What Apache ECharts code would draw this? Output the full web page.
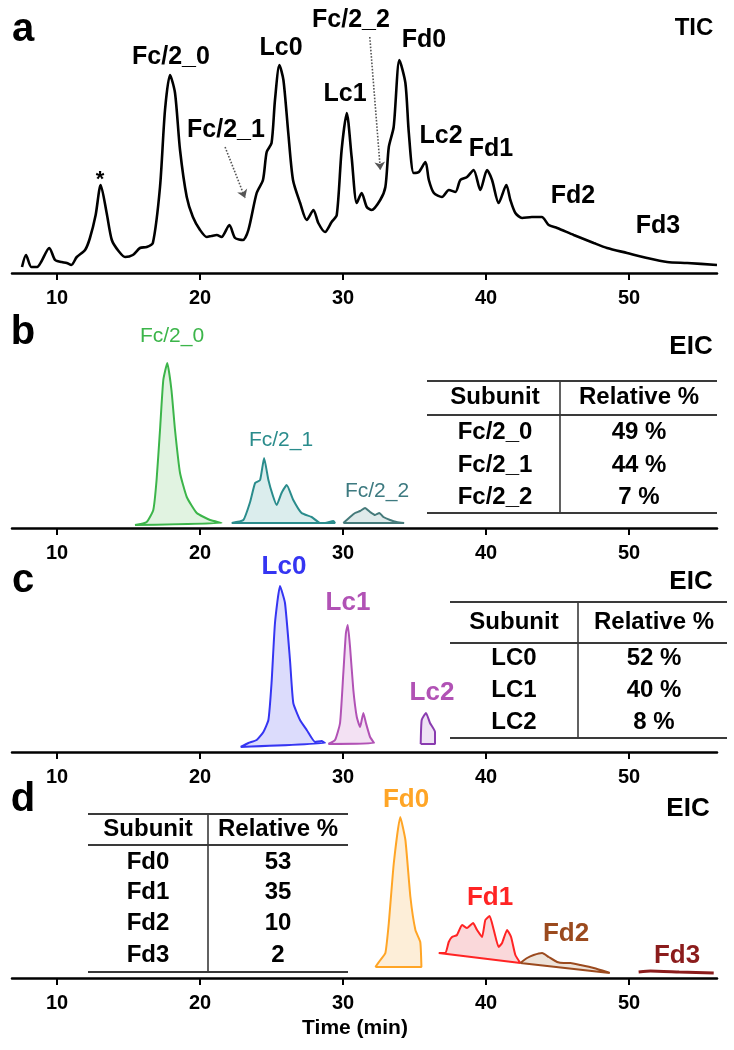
<!DOCTYPE html>
<html>
<head>
<meta charset="utf-8">
<script src="https://cdn.jsdelivr.net/npm/echarts@6/dist/echarts.min.js"></script>
<style>
  html, body { margin: 0; padding: 0; background: #fff; }
  #chart { width: 734px; height: 1050px; }
</style>
</head>
<body>
<div id="chart"></div>
<script>
// retention time axis (min)
const timeTicks = [10, 20, 30, 40, 50];

// panel a: total ion chromatogram, [time, intensity]
const tic = [
  [7.55, 6], [7.83, 18], [8.2, 6], [8.6, 6], [9.46, 25], [9.86, 13], [10.33, 11], [10.68, 10],
  [11.0, 8], [11.38, 16], [11.96, 23], [12.3, 35], [12.7, 58], [13.05, 88], [13.47, 60], [13.83, 33],
  [14.3, 22], [14.76, 16], [15.3, 18], [15.8, 25], [16.27, 26], [16.7, 30], [17.2, 86], [17.55, 163],
  [17.9, 198], [18.25, 180], [18.6, 123], [19.07, 76], [19.5, 56], [20.0, 43], [20.47, 36], [20.8, 37],
  [21.17, 38], [21.5, 36], [22.05, 48], [22.45, 35], [23.0, 33], [23.38, 43], [23.96, 80], [24.4, 93],
  [24.66, 121], [25.0, 130], [25.24, 173], [25.55, 208], [25.83, 193], [26.17, 140], [26.5, 93], [27.0, 70],
  [27.46, 53], [27.93, 63], [28.27, 50], [28.74, 41], [29.2, 51], [29.56, 58], [29.9, 123], [30.26, 160],
  [30.6, 116], [30.96, 70], [31.3, 80], [31.66, 66], [32.0, 63], [32.6, 73], [32.96, 86], [33.2, 126],
  [33.54, 146], [33.94, 213], [34.36, 190], [34.6, 140], [34.94, 100], [35.3, 101], [35.76, 111], [36.0, 93],
  [36.35, 80], [36.92, 76], [37.4, 83], [37.86, 81], [38.2, 93], [38.67, 96], [39.13, 103], [39.6, 83],
  [40.07, 103], [40.42, 93], [40.88, 70], [41.42, 88], [41.7, 73], [42.05, 60], [42.52, 55], [43.2, 56],
  [43.9, 56], [44.38, 48], [44.97, 45], [46.13, 38], [47.53, 30], [48.46, 25], [49.86, 20], [51.26, 15],
  [52.66, 11], [54.06, 10], [56.15, 8]
];
const ticLabels = ["Fc/2_0", "Lc0", "Fc/2_1", "Lc1", "Fc/2_2", "Fd0", "Lc2", "Fd1", "Fd2", "Fd3"];
// dotted arrows pointing at Fc/2_1 and Fc/2_2 shoulders
const arrowFc21 = [[21.75, 126], [23.15, 75]];
const arrowFc22 = [[31.87, 236], [32.61, 103]];

// panel b: extracted ion chromatograms, Fc/2
const fc20 = [[15.45, 3], [16.27, 6], [16.73, 18], [16.96, 48], [17.2, 98], [17.43, 148], [17.71, 165], [18.0, 138],
  [18.25, 98], [18.6, 55], [19.07, 31], [19.77, 15], [20.7, 8], [21.5, 5], [15.45, 3]];
const fc21 = [[22.21, 5], [23.03, 8], [23.5, 26], [23.85, 45], [24.2, 48], [24.48, 70], [24.78, 48], [25.1, 32],
  [25.36, 23], [25.7, 35], [26.06, 43], [26.52, 28], [27.1, 15], [27.8, 11], [28.4, 5], [28.74, 5],
  [29.32, 7], [29.44, 5], [22.21, 5]];
const fc22 = [[30.02, 5], [30.49, 11], [30.84, 15], [31.19, 17], [31.54, 20], [31.89, 16], [32.24, 13], [32.54, 15],
  [32.82, 11], [33.29, 8], [33.75, 6], [34.27, 5], [30.02, 5]];
const fcNames = ["Fc/2_0", "Fc/2_1", "Fc/2_2"];
const fcPct = ["49 %", "44 %", "7 %"];

// panel c: light chain
const lc0 = [[22.84, 5], [23.38, 9], [23.96, 12], [24.43, 20], [24.78, 32], [25.0, 69], [25.24, 129], [25.59, 166],
  [25.94, 149], [26.29, 92], [26.52, 49], [26.99, 32], [27.46, 22], [28.04, 10], [28.5, 11], [28.74, 9], [22.84, 5]];
const lc1 = [[28.97, 8], [29.44, 12], [29.79, 29], [30.02, 79], [30.2, 119], [30.33, 127], [30.49, 105], [30.72, 62],
  [30.96, 35], [31.19, 25], [31.42, 39], [31.6, 29], [31.89, 15], [32.17, 9], [28.97, 8]];
const lc2 = [[35.43, 8], [35.5, 32], [35.8, 39], [36.08, 29], [36.43, 20], [36.43, 8], [35.43, 8]];
const lcLabels = ["Lc0", "Lc1", "Lc2"];
const lcNames = ["LC0", "LC1", "LC2"];
const lcPct = ["52 %", "40 %", "8 %"];

// panel d: Fd
const fd0 = [[32.26, 11], [32.61, 18], [32.96, 25], [33.2, 55], [33.55, 115], [34.0, 161], [34.36, 138], [34.71, 81],
  [35.06, 48], [35.4, 36], [35.48, 11], [32.26, 11]];
const fd1 = [[36.69, 25], [37.16, 25], [37.39, 36], [37.62, 41], [37.97, 43], [38.32, 53], [38.67, 50], [39.09, 55],
  [39.37, 48], [39.72, 41], [39.95, 58], [40.25, 62], [40.54, 48], [40.88, 31], [41.12, 35], [41.47, 48],
  [41.75, 41], [42.05, 23], [42.4, 15], [36.69, 25]];
const fd2 = [[42.4, 15], [42.87, 20], [43.33, 23], [43.92, 25], [44.38, 21], [44.97, 16], [45.43, 15], [45.9, 15],
  [46.6, 13], [47.53, 10], [48.46, 6], [48.65, 5], [42.4, 15]];
const fd3 = [[50.67, 6], [51.5, 7], [53.5, 6], [55.92, 5]];
const fdNames = ["Fd0", "Fd1", "Fd2", "Fd3"];
const fdPct = ["53", "35", "10", "2"];

const FONT = '"Liberation Sans", Arial, sans-serif';

// grid layout, pixel coordinates (axis line y, plot height)
const panels = [
  { axisY: 273, h: 253 },
  { axisY: 528, h: 178 },
  { axisY: 752, h: 172 },
  { axisY: 978, h: 178 }
];

const chart = echarts.init(document.getElementById("chart"));

const grids = panels.map((p) => ({ left: 12, right: 17, top: p.axisY - p.h, height: p.h }));
const xAxes = panels.map((p, i) => ({
  type: "value",
  gridIndex: i,
  min: 6.85,
  max: 56.15,
  splitLine: { show: false },
  axisLine: { lineStyle: { color: "#000", width: 2.5 } },
  axisTick: { customValues: timeTicks, length: 7, lineStyle: { color: "#000", width: 2 } },
  axisLabel: {
    customValues: timeTicks,
    margin: 15,
    color: "#000",
    fontSize: 20,
    fontWeight: "bold",
    fontFamily: FONT
  }
}));
const yAxes = panels.map((p, i) => ({ type: "value", gridIndex: i, min: 0, max: p.h, show: false }));

const eic = (data, idx, line, fill, width) => ({
  type: "line",
  data: data,
  xAxisIndex: idx,
  yAxisIndex: idx,
  showSymbol: false,
  smooth: 0.15,
  lineStyle: { color: line, width: width || 2 },
  areaStyle: fill ? { color: fill, opacity: 1 } : undefined,
  z: 3
});

const series = [
  {
    type: "line",
    data: tic,
    xAxisIndex: 0,
    yAxisIndex: 0,
    showSymbol: false,
    smooth: 0.25,
    lineStyle: { color: "#000", width: 2.6 },
    markLine: {
      silent: true,
      symbol: ["none", "arrow"],
      symbolSize: 8,
      label: { show: false },
      lineStyle: { color: "#555", type: "dotted", width: 1.6 },
      data: [
        [{ coord: arrowFc21[0] }, { coord: arrowFc21[1] }],
        [{ coord: arrowFc22[0] }, { coord: arrowFc22[1] }]
      ]
    }
  },
  eic(fc20, 1, "#3cb54a", "#e1f3e1"),
  eic(fc21, 1, "#2a8c8c", "#dbeded"),
  eic(fc22, 1, "#457a7a", "#dfeaea"),
  eic(lc0, 2, "#3535f2", "#dcdcfc"),
  eic(lc1, 2, "#b152b5", "#f3e1f3"),
  eic(lc2, 2, "#8a3cb0", "#efe3f5"),
  eic(fd0, 3, "#ffa526", "#fdeed8"),
  eic(fd1, 3, "#ff2424", "#fad8da"),
  eic(fd2, 3, "#9b4a1e", "#eee3da"),
  eic(fd3, 3, "#8b1c1c", null, 3)
];

// text helpers
const txt = (x, y, s, size, color, weight) => ({
  type: "text",
  x: x,
  y: y,
  silent: true,
  style: {
    text: s,
    fill: color || "#000",
    font: (weight || "bold") + " " + size + "px " + FONT,
    align: "center",
    verticalAlign: "middle"
  }
});
const hline = (x1, x2, y, w) => ({
  type: "line", silent: true,
  shape: { x1: x1, y1: y, x2: x2, y2: y },
  style: { stroke: "#3a3a3a", lineWidth: w || 2 }
});
const vline = (x, y1, y2) => ({
  type: "line", silent: true,
  shape: { x1: x, y1: y1, x2: x, y2: y2 },
  style: { stroke: "#3a3a3a", lineWidth: 1.6 }
});

const table = (t, names, vals) => {
  const out = [
    hline(t.left, t.right, t.top),
    hline(t.left, t.right, t.head),
    hline(t.left, t.right, t.bottom),
    vline(t.vx, t.top, t.bottom),
    txt(t.c1, t.headY, "Subunit", 24),
    txt(t.c2, t.headY, "Relative %", 24)
  ];
  names.forEach((n, i) => {
    out.push(txt(t.c1, t.rows[i], n, 24));
    out.push(txt(t.c2, t.rows[i], vals[i], 24));
  });
  return out;
};

const graphics = [
  // panel a
  txt(23, 30, "a", 40),
  txt(694, 28, "TIC", 24),
  txt(100, 180, "*", 22),
  txt(171, 57, ticLabels[0], 25),
  txt(281, 48, ticLabels[1], 25),
  txt(226, 130, ticLabels[2], 25),
  txt(345, 94, ticLabels[3], 25),
  txt(351, 20, ticLabels[4], 25),
  txt(424, 40, ticLabels[5], 25),
  txt(441, 136, ticLabels[6], 25),
  txt(491, 149, ticLabels[7], 25),
  txt(573, 196, ticLabels[8], 25),
  txt(658, 226, ticLabels[9], 25),
  // panel b
  txt(23, 333, "b", 40),
  txt(691, 347, "EIC", 26),
  txt(172, 336, fcNames[0], 21, "#3cb54a", "normal"),
  txt(281, 440, fcNames[1], 21, "#2a8c8c", "normal"),
  txt(377, 491, fcNames[2], 21, "#3d7a80", "normal"),
  ...table({ left: 427, right: 717, top: 381, head: 415, bottom: 513, vx: 560, headY: 397,
    rows: [432, 465, 497], c1: 495, c2: 639 }, fcNames, fcPct),
  // panel c
  txt(23, 581, "c", 40),
  txt(691, 582, "EIC", 26),
  txt(284, 567, lcLabels[0], 26, "#3535f2"),
  txt(348, 603, lcLabels[1], 26, "#b152b5"),
  txt(432, 693, lcLabels[2], 26, "#b152b5"),
  ...table({ left: 450, right: 727, top: 602, head: 643, bottom: 738, vx: 578, headY: 622,
    rows: [658, 690, 722], c1: 514, c2: 654 }, lcNames, lcPct),
  // panel d
  txt(23, 800, "d", 40),
  txt(688, 809, "EIC", 26),
  txt(406, 800, fdNames[0], 26, "#ffa526"),
  txt(490, 898, fdNames[1], 26, "#ff2424"),
  txt(566, 934, fdNames[2], 26, "#9b4a1e"),
  txt(677, 956, fdNames[3], 26, "#8b1c1c"),
  ...table({ left: 88, right: 348, top: 814, head: 845, bottom: 972, vx: 208, headY: 829,
    rows: [862, 892, 923, 955], c1: 148, c2: 278 }, fdNames, fdPct),
  txt(355, 1028, "Time (min)", 21)
];

chart.setOption({
  animation: false,
  backgroundColor: "#fff",
  grid: grids,
  xAxis: xAxes,
  yAxis: yAxes,
  series: series,
  graphic: graphics
});
</script>
</body>
</html>
